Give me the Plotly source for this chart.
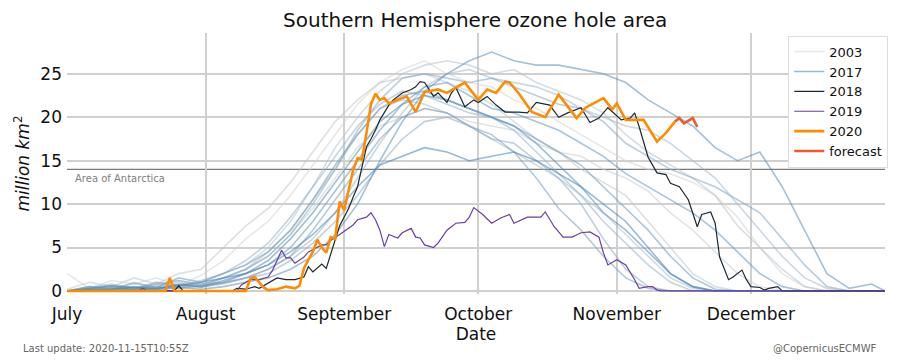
import pandas as pd
import plotly.graph_objects as go

BASE = pd.Timestamp("2020-07-01")

# ---------------- data ----------------
bg_years = list(range(2003, 2018))
bg_days = [0, 5, 10, 15, 20, 25, 30, 35, 40, 45, 50, 55, 60, 65, 70, 75, 80, 85, 90, 95,
           100, 105, 110, 115, 120, 125, 130, 135, 140, 145, 150, 155, 160, 165, 170, 175, 180, 183]

bg_2003 = [2.0, 0.3, 1.2, 0.8, 1.5, 0.6, 1.8, 3.5, 6.0, 8.0, 11.0, 14.5, 18.0, 21.5, 24.0, 25.5, 26.5, 25.0, 24.0, 23.5, 22.0, 21.0, 19.5, 18.0, 16.5, 15.0, 14.0, 13.5, 12.5, 11.0, 8.5, 5.0, 2.0, 0.5, 0, 0, 0, 0]
bg_2004 = [0, 0.5, 0.2, 1.0, 0.4, 1.2, 0.8, 1.5, 2.5, 4.0, 6.5, 9.5, 13.0, 16.5, 19.0, 20.0, 21.0, 20.5, 19.5, 19.0, 18.5, 17.0, 16.0, 15.5, 14.0, 13.0, 11.5, 9.0, 7.0, 4.5, 2.0, 0.5, 0, 0, 0, 0, 0, 0]
bg_2005 = [0.2, 1.0, 0.5, 1.5, 0.8, 2.0, 2.5, 5.0, 7.5, 9.5, 12.5, 16.0, 19.5, 22.0, 24.0, 24.5, 25.0, 24.0, 23.0, 21.5, 19.5, 17.5, 16.0, 14.0, 12.5, 11.0, 8.0, 5.0, 2.0, 0.5, 0, 0, 0, 0, 0, 0, 0, 0]
bg_2006 = [0, 0.3, 0.6, 0.2, 1.0, 0.5, 1.0, 2.0, 3.0, 5.0, 8.0, 12.0, 16.5, 20.0, 23.0, 25.0, 26.0, 26.5, 26.0, 25.0, 25.5, 24.0, 23.0, 22.0, 20.5, 18.0, 16.0, 14.5, 13.0, 11.0, 7.5, 5.0, 2.5, 0.5, 0, 0, 0, 0]
bg_2007 = [0, 0.5, 0.3, 0.2, 0.8, 0.4, 0.6, 1.5, 2.5, 4.5, 7.0, 10.5, 14.0, 18.0, 21.0, 22.0, 21.5, 20.5, 19.0, 17.5, 16.0, 14.5, 13.0, 11.0, 9.0, 6.5, 4.0, 1.5, 0.3, 0, 0, 0, 0, 0, 0, 0, 0, 0]
bg_2008 = [0, 0.2, 0.5, 0.3, 0.6, 1.0, 0.5, 0.8, 1.5, 2.5, 4.0, 6.0, 9.0, 13.0, 17.0, 20.5, 23.5, 25.0, 25.5, 24.5, 24.0, 23.5, 22.5, 21.0, 20.0, 19.0, 18.5, 17.0, 15.0, 13.0, 10.0, 7.0, 4.0, 1.5, 0.3, 0, 0, 0]
bg_2009 = [0, 0.4, 0.8, 0.3, 1.0, 0.6, 1.2, 2.0, 3.5, 5.5, 8.5, 12.0, 15.5, 19.0, 21.5, 23.0, 22.5, 21.5, 20.5, 20.0, 18.5, 16.0, 13.5, 11.0, 8.0, 5.5, 3.0, 1.0, 0, 0, 0, 0, 0, 0, 0, 0, 0, 0]
bg_2010 = [0, 0.2, 0.1, 0.4, 0.2, 0.5, 0.8, 1.0, 1.5, 2.0, 3.5, 5.5, 8.0, 11.0, 14.5, 17.5, 19.5, 20.0, 19.0, 17.5, 17.0, 15.0, 13.0, 10.0, 6.0, 2.5, 0.5, 0, 0, 0, 0, 0, 0, 0, 0, 0, 0, 0]
bg_2011 = [0, 0.3, 0.6, 0.2, 0.8, 1.2, 0.7, 1.5, 2.5, 4.0, 6.5, 10.0, 14.0, 18.5, 22.0, 24.5, 25.0, 24.5, 24.0, 24.5, 23.5, 22.5, 21.5, 21.0, 19.5, 17.0, 15.5, 14.0, 13.0, 12.0, 10.5, 9.0, 6.0, 3.0, 0.5, 0, 0, 0]
bg_2012 = [0, 0.1, 0.3, 0.2, 0.5, 0.3, 0.6, 0.9, 1.5, 2.5, 4.0, 7.0, 10.5, 14.0, 17.5, 20.0, 21.0, 20.5, 19.0, 18.0, 16.0, 13.0, 9.5, 7.0, 4.0, 1.5, 0.3, 0, 0, 0, 0, 0, 0, 0, 0, 0, 0, 0]
bg_2013 = [0, 0.5, 0.2, 0.9, 0.4, 1.5, 1.0, 2.0, 3.0, 4.5, 7.0, 10.5, 14.5, 18.0, 21.0, 22.5, 23.0, 22.0, 21.0, 20.0, 19.0, 17.5, 16.0, 14.5, 12.0, 9.5, 7.0, 4.0, 1.5, 0.2, 0, 0, 0, 0, 0, 0, 0, 0]
bg_2014 = [0, 0.2, 0.4, 0.1, 0.3, 0.7, 0.4, 1.0, 2.0, 3.0, 5.0, 8.0, 11.5, 15.0, 18.5, 21.5, 23.5, 24.0, 22.5, 21.0, 20.5, 19.5, 18.5, 17.0, 15.5, 13.5, 12.0, 10.5, 9.0, 7.0, 4.5, 2.0, 0.5, 0, 0, 0, 0, 0]
bg_2015 = [0, 0.2, 0.1, 0.3, 0.1, 0.4, 0.2, 0.5, 1.0, 1.5, 2.5, 4.0, 6.5, 10.0, 15.0, 19.5, 23.0, 25.0, 26.5, 27.5, 26.5, 26.0, 26.0, 25.5, 25.0, 24.0, 22.0, 20.5, 19.0, 16.5, 15.0, 16.0, 12.0, 7.0, 2.0, 0.3, 0.8, 0]
bg_2016 = [0, 0.3, 0.6, 0.4, 0.2, 0.8, 0.5, 1.2, 2.0, 3.5, 6.0, 9.0, 12.5, 16.0, 19.5, 21.5, 22.5, 22.0, 21.0, 20.0, 19.0, 17.0, 14.5, 12.0, 9.0, 7.0, 4.5, 2.0, 0.5, 0, 0, 0, 0, 0, 0, 0, 0, 0]
bg_2017 = [0, 0.1, 0.2, 0.5, 0.3, 0.6, 1.0, 1.5, 2.0, 3.0, 4.5, 6.5, 9.0, 12.0, 14.5, 15.5, 16.5, 16.0, 15.0, 15.5, 16.0, 15.0, 13.5, 12.0, 10.0, 8.0, 5.0, 2.0, 0.5, 0, 0, 0, 0, 0, 0, 0, 0, 0]

bg_values = [bg_2003, bg_2004, bg_2005, bg_2006, bg_2007, bg_2008, bg_2009, bg_2010,
             bg_2011, bg_2012, bg_2013, bg_2014, bg_2015, bg_2016, bg_2017]

days_2018 = [0, 24, 25, 26, 37, 38, 40, 42, 43, 45, 47, 49, 51, 53, 54, 55, 57, 58, 59, 60, 61, 62, 63, 64, 65,
             66, 67, 68, 69, 70, 72, 73, 75, 77, 78, 79, 80, 82, 83, 85, 86, 87, 89, 91, 92, 94, 96, 98, 101,
             103, 105, 108, 110, 112, 115, 117, 119, 121, 124, 126, 127, 128, 130, 132, 134, 135, 137, 139,
             140, 141, 142, 144, 145, 146, 148, 149, 151, 152, 153, 155, 156, 157, 159, 160, 183]
vals_2018 = [0, 0, 0.6, 0, 0, 0.3, 0.2, 0.5, 0.3, 0.9, 1.5, 1.3, 1.3, 1.6, 2.8, 2.2, 3.1, 2.6, 4.4, 5.9, 7.5, 8.5, 9.5, 10.8, 12.0,
             14.3, 16.6, 17.5, 18.5, 19.7, 21.4, 22.0, 22.8, 23.2, 23.5, 24.1, 24.0, 22.4, 22.8, 21.7, 22.8, 23.4, 21.2, 22.0, 21.7, 22.4, 21.4, 20.6, 20.6,
             20.5, 21.7, 21.4, 20.0, 20.5, 21.1, 19.4, 19.9, 21.1, 19.7, 19.9, 20.5, 18.9, 15.4, 13.6, 13.4, 12.4, 12.0, 10.5,
             9.0, 7.4, 8.8, 9.1, 7.8, 3.9, 1.3, 1.6, 2.4, 1.3, 0.5, 0.4, 0.1, 0.3, 0.5, 0, 0]

days_2019 = [0, 16, 17, 18, 38, 39, 41, 43, 45, 46, 47, 48, 49, 50, 51, 53, 54, 57, 58, 59, 61, 63, 64, 65, 67, 68,
             69, 70, 71, 72, 74, 75, 77, 78, 79, 80, 82, 83, 85, 87, 89, 90, 91, 93, 95, 97, 99, 100, 103, 106,
             107, 109, 111, 113, 115, 117, 119, 120, 121, 123, 125, 127, 128, 130, 131, 132, 133, 183]
vals_2019 = [0, 0, 0.3, 0, 0, 0.7, 1.3, 1.3, 1.6, 2.4, 3.5, 4.7, 3.8, 3.8, 3.2, 3.9, 4.5, 5.3, 5.3, 5.8, 6.5, 7.2, 7.6, 8.2, 8.5, 9.0,
             8.2, 7.0, 5.1, 6.5, 6.1, 6.7, 7.2, 6.2, 6.1, 5.3, 5.0, 5.5, 7.0, 7.8, 7.9, 8.5, 9.6, 8.8, 7.8, 8.4, 8.8, 7.8, 8.5, 8.5,
             9.1, 7.4, 6.2, 6.2, 6.7, 6.8, 6.2, 4.4, 3.0, 3.6, 3.0, 1.3, 0.3, 0.5, 0.5, 0.1, 0, 0]

days_2020 = [0, 22, 23, 24, 40, 41, 42, 43, 44, 45, 47, 49, 51, 52, 53, 54, 55, 56, 57, 58, 59, 60, 61, 62, 63, 64,
             65, 66, 67, 68, 69, 70, 71, 72, 74, 76, 78, 80, 83, 85, 87, 89, 92, 94, 96, 98, 99, 101, 104, 107,
             110, 114, 116, 120, 122, 123, 125, 129, 132, 134, 136]
vals_2020 = [0, 0, 1.5, 0, 0, 1.4, 1.6, 1.0, 0.4, 0.1, 0.2, 0.5, 0.3, 0.6, 2.6, 3.6, 4.5, 5.9, 5.0, 4.4, 6.2, 6.0, 10.3, 9.3, 11.6, 13.9,
             15.3, 15.1, 18.2, 21.5, 22.7, 22.0, 22.2, 21.6, 22.0, 22.4, 20.6, 22.9, 23.2, 22.8, 23.4, 24.0, 22.0, 23.2, 22.8, 24.1, 24.0, 22.8, 20.6, 20.0,
             22.6, 19.9, 21.1, 22.2, 20.9, 21.6, 19.7, 19.7, 17.2, 18.2, 19.5]

days_forecast = [136, 137, 138, 140, 141]
vals_forecast = [19.5, 19.9, 19.3, 19.9, 18.9]

month_ticks = ["2020-07-01", "2020-08-01", "2020-09-01", "2020-10-01", "2020-11-01", "2020-12-01"]
month_labels = ["July", "August", "September", "October", "November", "December"]
y_ticks = [0, 5, 10, 15, 20, 25]
antarctica_area = 14


def to_dates(days):
    return [BASE + pd.Timedelta(days=int(d)) for d in days]


FONT = "DejaVu Sans"
fig = go.Figure()

c0 = (211, 211, 211)
c1 = (70, 130, 180)
n = len(bg_years)
for i, (yr, vals) in enumerate(zip(bg_years, bg_values)):
    t = i / (n - 1)
    r = round(c0[0] + (c1[0] - c0[0]) * t)
    g = round(c0[1] + (c1[1] - c0[1]) * t)
    b = round(c0[2] + (c1[2] - c0[2]) * t)
    fig.add_trace(go.Scatter(
        x=to_dates(bg_days), y=vals, mode="lines", name=str(yr),
        line=dict(color=f"rgba({r},{g},{b},0.55)", width=1.6),
        showlegend=(yr in (2003, 2017)), hoverinfo="skip"))

fig.add_trace(go.Scatter(x=to_dates(days_2018), y=vals_2018, mode="lines", name="2018",
                         line=dict(color="#1c2733", width=1.2)))
fig.add_trace(go.Scatter(x=to_dates(days_2019), y=vals_2019, mode="lines", name="2019",
                         line=dict(color="#6b3fa0", width=1.2)))
fig.add_trace(go.Scatter(x=to_dates(days_2020), y=vals_2020, mode="lines", name="2020",
                         line=dict(color="#ff8c00", width=2.6)))
fig.add_trace(go.Scatter(x=to_dates(days_forecast), y=vals_forecast, mode="lines", name="forecast",
                         line=dict(color="#ee5a2a", width=2.6)))

fig.add_shape(type="line", xref="paper", x0=0, x1=1, yref="y", y0=antarctica_area, y1=antarctica_area,
              line=dict(color="#7a7a7a", width=1.2), layer="below")
fig.add_annotation(xref="paper", x=0.007, yref="y", y=antarctica_area, text="Area of Antarctica",
                   showarrow=False, xanchor="left", yanchor="top", yshift=-2,
                   font=dict(family=FONT, size=10, color="#808080"))

fig.add_annotation(xref="paper", yref="paper", x=-0.056, y=-0.21, text="Last update: 2020-11-15T10:55Z",
                   showarrow=False, xanchor="left", yanchor="middle",
                   font=dict(family=FONT, size=10, color="#666666"))
fig.add_annotation(xref="paper", yref="paper", x=0.993, y=-0.21, text="@CopernicusECMWF",
                   showarrow=False, xanchor="right", yanchor="middle",
                   font=dict(family=FONT, size=10, color="#666666"))

fig.update_layout(
    width=900, height=360,
    margin=dict(l=67, r=15, t=33, b=66),
    paper_bgcolor="white", plot_bgcolor="white",
    font=dict(family=FONT, size=17, color="#111111"),
    title=dict(text="Southern Hemisphere ozone hole area", x=0.528, xanchor="center", y=0.945, yanchor="middle",
               font=dict(family=FONT, size=20, color="#111111")),
    legend=dict(x=1.004, xanchor="right", y=0.99, yanchor="top",
                bgcolor="white", bordercolor="#dddddd", borderwidth=1,
                font=dict(family=FONT, size=13, color="#111111"),
                tracegroupgap=0, itemwidth=30),
    showlegend=True,
)
fig.update_xaxes(
    range=["2020-07-01", "2020-12-31"], tickvals=month_ticks, ticktext=month_labels,
    showgrid=True, gridcolor="#d0d0d0", gridwidth=1.5, showline=False, zeroline=False,
    ticks="", ticklabelstandoff=8,
    title=dict(text="Date", standoff=4, font=dict(family=FONT, size=17)),
    tickfont=dict(family=FONT, size=17),
)
fig.update_yaxes(
    range=[-0.35, 29.7], tickvals=y_ticks,
    showgrid=True, gridcolor="#d0d0d0", gridwidth=1.5, showline=False, zeroline=False,
    ticks="", ticklabelstandoff=4,
    title=dict(text="<i>million km</i><sup>2</sup>", standoff=6, font=dict(family=FONT, size=17)),
    tickfont=dict(family=FONT, size=17),
)

fig.write_html("out.html", config={"displayModeBar": False},
               post_script="document.body.style.margin='0px';")
